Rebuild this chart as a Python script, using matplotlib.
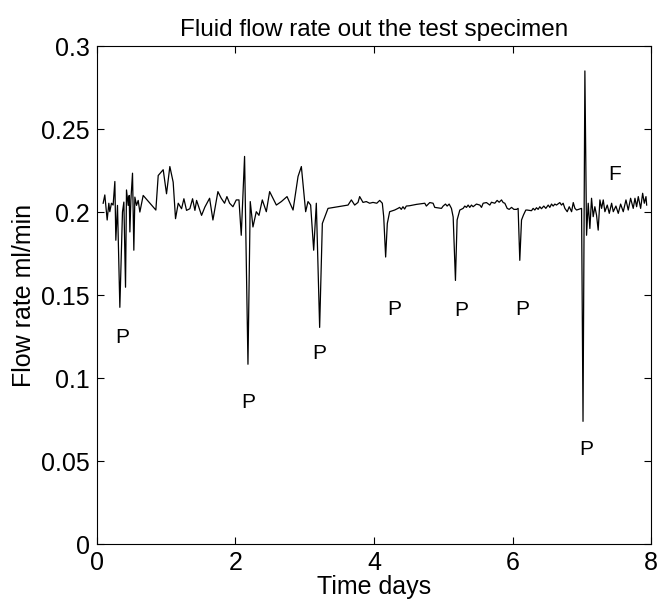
import matplotlib
matplotlib.use('Agg')
import matplotlib.pyplot as plt

plt.rcParams['font.family'] = ['Liberation Sans', 'DejaVu Sans']

# flow rate readings (time in days, rate in ml/min)
t_days = [0.089, 0.113, 0.147, 0.171, 0.185, 0.209, 0.233, 0.258, 0.272, 0.296,
          0.33, 0.368, 0.388, 0.412, 0.426, 0.45, 0.465, 0.475, 0.489, 0.513,
          0.532, 0.547, 0.571, 0.595, 0.619, 0.667, 0.85, 0.884, 0.956, 1.004,
          1.052, 1.1, 1.134, 1.173, 1.221, 1.255, 1.293, 1.341, 1.38, 1.414,
          1.438, 1.51, 1.558,
          1.626, 1.674, 1.746, 1.794, 1.842, 1.876, 1.915, 1.963, 2.011, 2.05,
          2.083, 2.131, 2.18, 2.213, 2.252, 2.3, 2.339, 2.387, 2.445, 2.493,
          2.59, 2.662, 2.744, 2.831, 2.903, 2.951, 3.013, 3.047,
          3.085, 3.129, 3.167, 3.215, 3.254, 3.336, 3.625, 3.673, 3.721, 3.769,
          3.793, 3.841, 3.889, 3.937, 3.985, 4.04, 4.082, 4.12, 4.14, 4.168,
          4.192, 4.226, 4.298, 4.346, 4.37, 4.394, 4.418, 4.442, 4.466, 4.514,
          4.612, 4.733, 4.756, 4.805, 4.853, 4.877, 4.974, 4.998, 5.032, 5.056,
          5.085, 5.118, 5.143, 5.176, 5.2, 5.239, 5.287, 5.311, 5.335, 5.359,
          5.383, 5.407, 5.431, 5.479, 5.528, 5.552, 5.576, 5.624, 5.672, 5.696,
          5.744, 5.778, 5.807, 5.841, 5.865, 5.889, 5.923, 5.952, 5.986, 6.02,
          6.058, 6.081, 6.105, 6.13, 6.158, 6.192,
          6.211, 6.274, 6.298, 6.322, 6.346, 6.37, 6.394, 6.418, 6.452, 6.481,
          6.515, 6.539, 6.563, 6.587, 6.611, 6.635, 6.683, 6.707, 6.731, 6.756,
          6.79, 6.819, 6.853, 6.877, 6.901, 6.925, 6.997, 7.018, 7.045,
          7.069, 7.093, 7.117, 7.141, 7.165, 7.189, 7.213, 7.237, 7.262, 7.286,
          7.31, 7.334, 7.368, 7.397, 7.431, 7.455, 7.493, 7.527, 7.561, 7.599,
          7.638, 7.671, 7.705, 7.743, 7.768, 7.792, 7.816, 7.85, 7.879, 7.903,
          7.927, 7.937]

flow = [0.2053, 0.2103, 0.1952, 0.2053, 0.2002, 0.2053, 0.2042, 0.2184, 0.183, 0.204,
        0.1426, 0.200, 0.206, 0.1547, 0.2133, 0.204, 0.210, 0.188, 0.207, 0.2234,
        0.177, 0.209, 0.204, 0.207, 0.200, 0.210, 0.2012, 0.222, 0.2255, 0.211,
        0.2274, 0.218, 0.196, 0.2053, 0.202, 0.208, 0.201, 0.202, 0.208, 0.201,
        0.207, 0.198, 0.203,
        0.2083, 0.1952, 0.2123, 0.2083, 0.2053, 0.2093, 0.2053, 0.2032, 0.2073, 0.2073,
        0.186, 0.2335, 0.1083, 0.2063, 0.191, 0.2002, 0.198, 0.2073, 0.2002, 0.2123,
        0.2042, 0.2063, 0.2093, 0.2012, 0.2214, 0.2274, 0.2002, 0.2063,
        0.2042, 0.177, 0.2053, 0.1305, 0.1931, 0.2022, 0.2042, 0.2073, 0.2042, 0.2058,
        0.2093, 0.2058, 0.2063, 0.2053, 0.2058, 0.2053, 0.207, 0.2053, 0.1972, 0.1729,
        0.1931, 0.2002, 0.2012, 0.2022, 0.2028, 0.2016, 0.2032, 0.2018, 0.2036, 0.2038,
        0.2046, 0.2053, 0.2036, 0.2057, 0.2053, 0.2028, 0.2022, 0.2036, 0.2048, 0.2036,
        0.2048, 0.2022, 0.197, 0.1588, 0.1952, 0.2012, 0.2022, 0.2036, 0.2028, 0.2042,
        0.2028, 0.2042, 0.2032, 0.2048, 0.2042, 0.2028, 0.2053, 0.2057, 0.2042, 0.2059,
        0.2053, 0.207, 0.2059, 0.2073, 0.2057, 0.2053, 0.2022, 0.2016, 0.2028, 0.2016,
        0.2016, 0.2022, 0.1709, 0.1952, 0.1982, 0.2012,
        0.2012, 0.2008, 0.2022, 0.2012, 0.2026, 0.2016, 0.2032, 0.202, 0.2036, 0.2022,
        0.2042, 0.2028, 0.2048, 0.2036, 0.2048, 0.2042, 0.2057, 0.2042, 0.2053, 0.2022,
        0.2002, 0.2032, 0.2002, 0.2057, 0.2022, 0.2012, 0.2022, 0.0739, 0.285,
        0.186, 0.2053, 0.1901, 0.2083, 0.1972, 0.2032, 0.1982, 0.1891, 0.2073, 0.2022,
        0.2073, 0.2002, 0.2042, 0.1992, 0.2053, 0.2002, 0.2036, 0.1992, 0.2048, 0.2002,
        0.2073, 0.2012, 0.2083, 0.2022, 0.2083, 0.2032, 0.2093, 0.2022, 0.2113, 0.2053,
        0.2093, 0.2042]

# annotation letters and where they sit
note_text = ['P', 'P', 'P', 'P', 'P', 'P', 'P', 'F']
note_x = [0.37, 2.18, 3.215, 4.295, 5.26, 6.145, 7.067, 7.48]
note_y = [0.1247, 0.0854, 0.1146, 0.1415, 0.1405, 0.1415, 0.0567, 0.2224]

x_ticks = [0, 2, 4, 6, 8]
y_ticks = [0, 0.05, 0.1, 0.15, 0.2, 0.25, 0.3]
y_tick_labels = ['0', '0.05', '0.1', '0.15', '0.2', '0.25', '0.3']

fig = plt.figure(figsize=(6.58, 6.09), dpi=100)
ax = fig.add_axes([0.1474, 0.1067, 0.842, 0.8177])

ax.plot(t_days, flow, color='black', lw=0.9)

for s, xx, yy in zip(note_text, note_x, note_y):
    ax.text(xx, yy, s, ha='center', va='center', fontsize=15)

ax.set_xlim(0, 8)
ax.set_ylim(0, 0.3)
ax.set_xticks(x_ticks)
ax.set_xticklabels([str(v) for v in x_ticks])
ax.set_yticks(y_ticks)
ax.set_yticklabels(y_tick_labels)
ax.tick_params(direction='in', top=True, right=True, length=5, width=0.8,
               labelsize=18, pad=5)
for sp in ax.spines.values():
    sp.set_linewidth(0.8)

ax.set_title('Fluid flow rate out the test specimen', fontsize=17.5, pad=7)
ax.set_xlabel('Time days', fontsize=18, labelpad=0)
ax.set_ylabel('Flow rate ml/min', fontsize=18, labelpad=4)

fig.savefig('out.png', dpi=100)
